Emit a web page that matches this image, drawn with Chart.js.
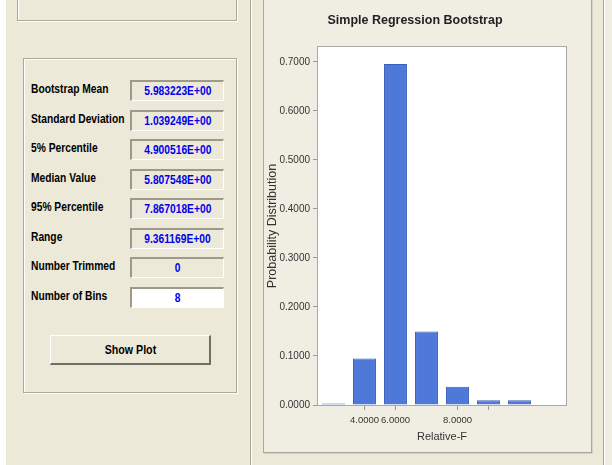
<!DOCTYPE html>
<html>
<head>
<meta charset="utf-8">
<script src="https://cdn.jsdelivr.net/npm/chart.js@4.4.1/dist/chart.umd.min.js"></script>
<style>
body { margin:0; width:612px; height:465px; overflow:hidden; background:#ECE9D8; position:relative;
       font-family:"Liberation Sans",Arial,sans-serif; }
.abs { position:absolute; box-sizing:border-box; }
.narrow { display:inline-block; transform:scaleX(0.82); }
.strip { left:0; top:0; width:6px; height:465px; background:#fff; }
.etched { border:1px solid #ACA899; box-shadow: inset 1px 1px 0 #fff, 1px 1px 0 #fff; }
.topbox { left:17px; top:-3px; width:220px; height:24px; }
.group { left:23px; top:58px; width:214px; height:335px; }
.lbl { left:31px; width:130px; height:20px; line-height:20px; font-size:12.5px; font-weight:bold; color:#000; white-space:nowrap; }
.lbl .narrow { transform-origin:0 50%; }
.val { left:130px; width:94px; height:21px; line-height:18px; text-align:center; font-size:12.5px; font-weight:bold; color:#0000EE; white-space:nowrap;
       border-top:2px solid #9D9A8C; border-left:2px solid #9D9A8C; border-right:1px solid #fff; border-bottom:1px solid #fff; background:#ECE9D8; }
.val.edit { background:#fff; }
.btn { left:50px; top:335px; width:161px; height:30px; background:#ECE9D8; font-size:13px; font-weight:bold; text-align:center; line-height:28px;
       border-top:1px solid #fff; border-left:1px solid #fff; border-right:2px solid #716F64; border-bottom:2px solid #716F64; }
.vline { top:0; height:465px; width:2px; border-left:1px solid #ACA899; border-right:1px solid #fff; }
.panel { left:263px; top:-4px; width:329px; height:457px; background:#F0EEE3; border:1px solid #ACA899; box-shadow: 1px 1px 0 #D6D3C6; }
.rightfill { left:605px; top:0; width:7px; height:465px; background:#F0EEE3; }
#wrap { left:264px; top:0; width:356px; height:453px; }
</style>
</head>
<body>
<div class="abs strip"></div>
<div class="abs etched topbox"></div>
<div class="abs etched group"></div>
<div id="stats"></div>
<div class="abs btn"><span class="narrow">Show Plot</span></div>
<div class="abs vline" style="left:250px"></div>
<div class="abs panel"></div>
<div class="abs vline" style="left:603px"></div>
<div class="abs rightfill"></div>
<div class="abs" id="wrap"><canvas id="myChart" width="356" height="453"></canvas></div>

<script>
const statNames = ['Bootstrap Mean', 'Standard Deviation', '5% Percentile', 'Median Value',
                   '95% Percentile', 'Range', 'Number Trimmed', 'Number of Bins']
const statValues = ['5.983223E+00', '1.039249E+00', '4.900516E+00', '5.807548E+00',
                    '7.867018E+00', '9.361169E+00', '0', '8']

const categories = ['', '4.0000', '6.0000', '', '8.0000', '', '', '']
const probabilities = [0.003, 0.095, 0.696, 0.150, 0.037, 0.0095, 0.0095, 0]
const tickMarks = [false, true, true, false, true, true, false, false]
const yTicks = [0, 0.1, 0.2, 0.3, 0.4, 0.5, 0.6, 0.7]

// left panel
let html = ''
statNames.forEach((name, i) => {
    const top = 80 + i * 29.5
    html += `<div class="abs lbl" style="top:${top - 1}px"><span class="narrow">${name}</span></div>`
    html += `<div class="abs val${i == statNames.length - 1 ? ' edit' : ''}" style="top:${top}px"><span class="narrow">${statValues[i]}</span></div>`
})
document.getElementById('stats').innerHTML = html

const sans = '"Liberation Sans",Arial,sans-serif'

const plotFrame = {
    id: 'plotFrame',
    beforeDraw(chart) {
        const a = chart.chartArea
        chart.ctx.save()
        chart.ctx.fillStyle = '#fff'
        chart.ctx.fillRect(a.left, a.top, a.right - a.left, a.bottom - a.top)
        chart.ctx.restore()
    },
    afterDatasetsDraw(chart) {
        const a = chart.chartArea
        const c = chart.ctx
        c.save()
        c.strokeStyle = '#A9A9A9'
        c.lineWidth = 1
        c.strokeRect(Math.round(a.left) - 0.5, Math.round(a.top) - 0.5, Math.round(a.right - a.left) + 1, Math.round(a.bottom - a.top) + 1)
        c.restore()
    }
}

new Chart(document.getElementById('myChart'), {
    type: 'bar',
    data: {
        labels: categories,
        datasets: [{
            data: probabilities,
            backgroundColor: '#4F79D9',
            borderColor: '#3B5FB8',
            borderWidth: 1,
            categoryPercentage: 1,
            barPercentage: 0.74
        }]
    },
    options: {
        responsive: false,
        animation: false,
        layout: { padding: { left: 0, right: 54, top: 0, bottom: 0 } },
        plugins: {
            legend: { display: false },
            tooltip: { enabled: false },
            title: {
                display: true,
                text: 'Simple Regression Bootstrap',
                color: '#222',
                font: { family: sans, size: 12.5, weight: 'bold' },
                padding: { top: 13, bottom: 19 }
            }
        },
        scales: {
            x: {
                afterFit: (s) => { s.height = 48 },
                border: { display: false },
                grid: {
                    offset: false,
                    drawOnChartArea: false,
                    tickLength: 5,
                    tickColor: (ctx) => tickMarks[ctx.index] ? '#999' : 'rgba(0,0,0,0)'
                },
                ticks: { autoSkip: false, maxRotation: 0, padding: 5, color: '#333', font: { family: sans, size: 9.5 } },
                title: { display: true, text: 'Relative-F', color: '#333', font: { family: sans, size: 11 }, padding: { top: 2, bottom: 9 } }
            },
            y: {
                min: 0,
                max: 0.7306,
                afterFit: (s) => { s.width = 54 },
                afterBuildTicks: (s) => { s.ticks = yTicks.map(v => ({ value: v })) },
                border: { display: false },
                grid: { drawOnChartArea: false, tickLength: 5, tickColor: '#999' },
                ticks: { padding: 3, color: '#333', font: { family: sans, size: 10 }, callback: (v) => Number(v).toFixed(4) },
                title: { display: true, text: 'Probability Distribution', color: '#333', font: { family: sans, size: 12.5 }, padding: { top: 1, bottom: 0 } }
            }
        }
    },
    plugins: [plotFrame]
})
</script>
</body>
</html>
